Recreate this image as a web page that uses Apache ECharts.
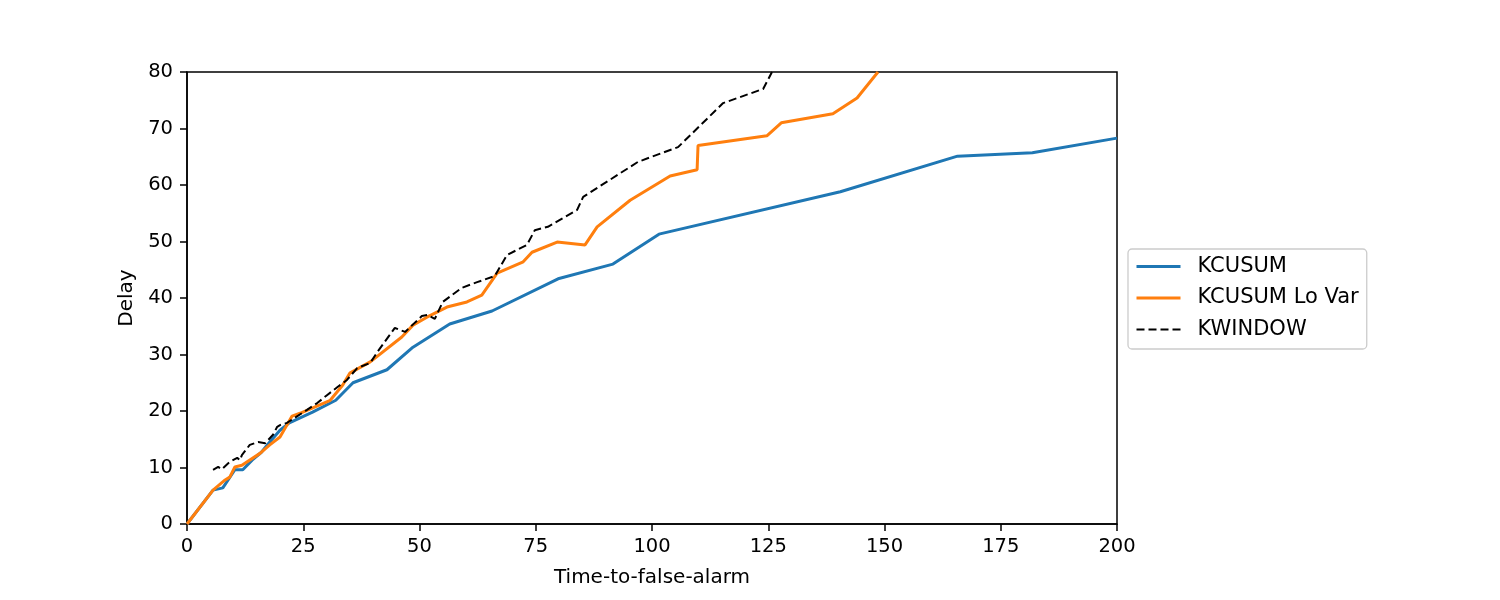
<!DOCTYPE html>
<html>
<head>
<meta charset="utf-8">
<script src="https://cdn.jsdelivr.net/npm/echarts@6/dist/echarts.min.js"></script>
<style>
  html, body { margin: 0; padding: 0; background: #fff; }
  #chart { width: 1500px; height: 600px; }
</style>
</head>
<body>
<div id="chart"></div>
<script>
// [time-to-false-alarm, delay] pairs
const kcusum = [
  [0, 0], [5.6, 6.0], [7.7, 6.4], [10.3, 9.6], [12, 9.6], [14, 11.3], [16, 12.7],
  [17.8, 14.5], [20, 16.6], [22, 17.9], [27, 19.8], [32, 21.9], [35.7, 25.0],
  [43, 27.3], [48.6, 31.3], [56.5, 35.4], [65.6, 37.7], [79.8, 43.4], [91.6, 46.0],
  [101.5, 51.3], [140.5, 58.8], [165.7, 65.1], [181.8, 65.7], [200, 68.3]
];
const kcusumLoVar = [
  [0, 0], [5.6, 6], [8.2, 7.8], [9.2, 8.3], [10.3, 10.1], [11.8, 10.4], [15.7, 12.5],
  [17.8, 14], [20, 15.4], [22.6, 19.1], [24.3, 19.6], [30.8, 21.9], [33.5, 24.6],
  [35, 26.7], [39.4, 28.7], [46.2, 33.1], [48.6, 35.2], [51.6, 36.6], [55.9, 38.4],
  [60.2, 39.3], [63.4, 40.5], [66.7, 44.4], [72.3, 46.4], [74.2, 48.1], [79.6, 49.9],
  [85.6, 49.4], [88.2, 52.6], [95.3, 57.3], [103.9, 61.6], [109.7, 62.7], [109.9, 67],
  [124.7, 68.7], [127.8, 71], [138.9, 72.6], [144.1, 75.4], [148.6, 80]
];
const kwindow = [
  [5.6, 9.6], [6.7, 10.1], [7.5, 9.7], [9.2, 11], [10.8, 11.7], [11.4, 11.3], [11.8, 12.2],
  [13.5, 14], [15.3, 14.5], [16.8, 14.3], [18.5, 15.8], [19.4, 17.2], [20, 17.5],
  [21.5, 17.9], [25.8, 20.2], [28, 21.4], [30.1, 22.8], [32.3, 24.2], [34.4, 25.5],
  [36.6, 27.6], [39.4, 28.5], [40.9, 30.4], [44.7, 34.7], [46.9, 34], [50.5, 36.8],
  [51.8, 37], [53.3, 36.3], [55, 39.3], [59.1, 41.8], [62.4, 42.8], [66.2, 43.9],
  [68.8, 47.6], [73.1, 49.4], [74.8, 52], [77.6, 52.6], [83.9, 55.6], [85.2, 57.9],
  [97, 64.1], [105.6, 66.7], [115.3, 74.5], [123.9, 77], [125.8, 80]
];
const seriesNames = ["KCUSUM", "KCUSUM Lo Var", "KWINDOW"];

const font = "DejaVu Sans";
const chart = echarts.init(document.getElementById("chart"));

const axisCommon = {
  axisLine: { show: true, lineStyle: { color: "#000", width: 1.5 } },
  axisTick: { show: true, length: 7, lineStyle: { color: "#000", width: 1.5 } },
  splitLine: { show: false },
  nameLocation: "middle",
  nameTextStyle: { color: "#000", fontFamily: font, fontSize: 20 },
};

chart.setOption({
  animation: false,
  grid: {
    left: 187, right: 383, top: 72, bottom: 76,
    show: true, borderColor: "#000", borderWidth: 1.5, backgroundColor: "transparent",
  },
  legend: {
    orient: "vertical",
    left: 1128,
    top: 249,
    data: [
      { name: seriesNames[0], lineStyle: { width: 3 } },
      { name: seriesNames[1], lineStyle: { width: 3 } },
      { name: seriesNames[2], lineStyle: { width: 2 } },
    ],
    itemWidth: 44,
    itemHeight: 14,
    itemGap: 10.5,
    padding: [7, 8, 9, 7],
    borderColor: "#cccccc",
    borderWidth: 1.3,
    borderRadius: 4,
    itemStyle: { opacity: 0 },
    textStyle: { color: "#000", fontFamily: font, fontSize: 21, lineHeight: 20, padding: [0, 0, 0, 12] },
  },
  xAxis: Object.assign({}, axisCommon, {
    type: "value",
    min: 0, max: 200, interval: 25,
    name: "Time-to-false-alarm",
    nameGap: 44,
    axisLabel: { color: "#000", fontFamily: font, fontSize: 19.5, margin: 13 },
  }),
  yAxis: Object.assign({}, axisCommon, {
    type: "value",
    min: 0, max: 80, interval: 10,
    name: "Delay",
    nameGap: 49,
    axisLabel: { color: "#000", fontFamily: font, fontSize: 19.5, margin: 14 },
  }),
  series: [
    {
      name: seriesNames[0], type: "line", data: kcusum, showSymbol: false, symbol: "none",
      clip: true, lineStyle: { color: "#1f77b4", width: 3 }, itemStyle: { color: "#1f77b4" },
    },
    {
      name: seriesNames[1], type: "line", data: kcusumLoVar, showSymbol: false, symbol: "none",
      clip: true, lineStyle: { color: "#ff7f0e", width: 3 }, itemStyle: { color: "#ff7f0e" },
    },
    {
      name: seriesNames[2], type: "line", data: kwindow, showSymbol: false, symbol: "none",
      clip: true, lineStyle: { color: "#000", width: 2, type: [8, 4] }, itemStyle: { color: "#000" },
    },
  ],
});
</script>
</body>
</html>
